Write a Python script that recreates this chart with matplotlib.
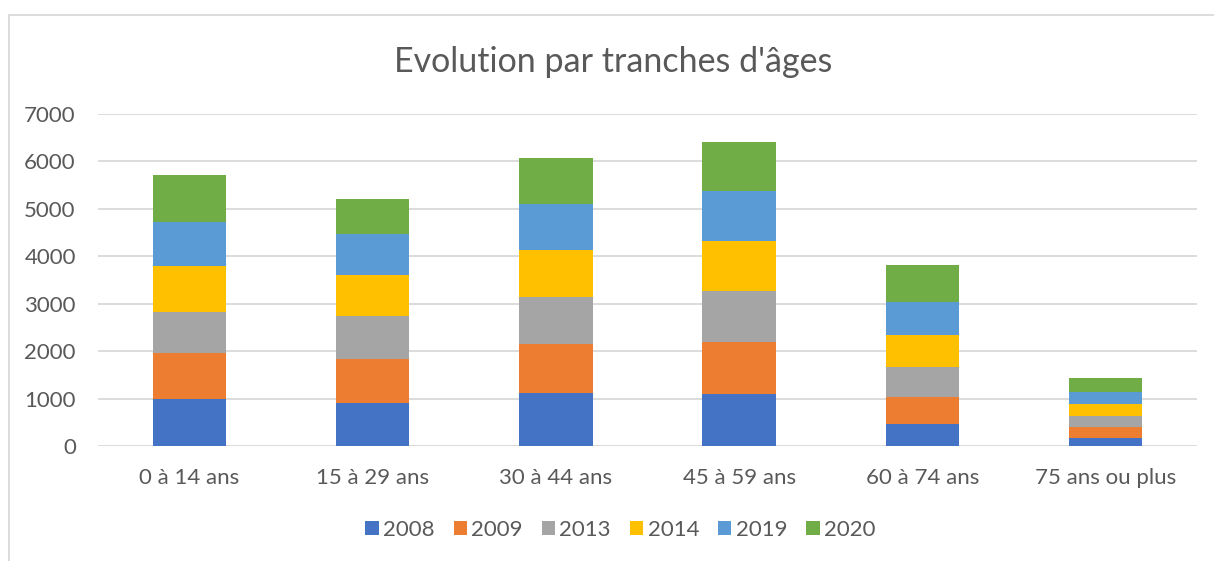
import matplotlib.pyplot as plt
from matplotlib.lines import Line2D
import numpy as np

plt.rcParams['font.family'] = ['Lato', 'DejaVu Sans']

categories = ["0 à 14 ans", "15 à 29 ans", "30 à 44 ans", "45 à 59 ans", "60 à 74 ans", "75 ans ou plus"]
years = ["2008", "2009", "2013", "2014", "2019", "2020"]
v2008 = [1000, 913, 1111, 1091, 458, 175]
v2009 = [958, 922, 1047, 1097, 582, 232]
v2013 = [877, 914, 985, 1088, 620, 232]
v2014 = [964, 859, 992, 1049, 675, 247]
v2019 = [914, 858, 977, 1061, 709, 260]
v2020 = [1000, 739, 964, 1021, 768, 282]
colors = ["#4472C4", "#ED7D31", "#A5A5A5", "#FFC000", "#5B9BD5", "#70AD47"]

series = [v2008, v2009, v2013, v2014, v2019, v2020]
txt = "#595959"

fig = plt.figure(figsize=(12.14, 5.61), dpi=100)
ax = fig.add_axes([98 / 1214, 115 / 561, 1099 / 1214, 332 / 561])

x = np.arange(len(categories))
bottom = np.zeros(len(categories))
for name, vals, c in zip(years, series, colors):
    ax.bar(x, vals, 0.4, bottom=bottom, color=c, label=name, zorder=2)
    bottom += np.array(vals)

ax.set_xlim(-0.5, len(categories) - 0.5)
ax.set_ylim(0, 7000)
ax.set_yticks(range(0, 7001, 1000))
ax.set_xticks(x)
ax.set_xticklabels(categories)
ax.grid(axis="y", color="#D9D9D9", linewidth=1.3, zorder=0)
for s in ax.spines.values():
    s.set_visible(False)
ax.tick_params(length=0, labelsize=16, colors=txt)
ax.tick_params(axis="y", pad=16)
ax.tick_params(axis="x", pad=16)

fig.text(0.505, 0.89, "Evolution par tranches d'âges", ha="center", va="center",
         fontsize=24.5, color=txt)

fig.legend(loc="center", bbox_to_anchor=(0.511, 0.055), ncol=6, frameon=False,
           fontsize=16, labelcolor=txt, handlelength=0.6, handleheight=0.6,
           handletextpad=0.2, columnspacing=0.85)

# chart-area border (only top and left edges are visible in the crop)
fig.add_artist(Line2D([9 / 1214, 1.0], [1 - 15 / 561, 1 - 15 / 561], color="#D9D9D9", lw=1.3))
fig.add_artist(Line2D([9 / 1214, 9 / 1214], [0, 1 - 15 / 561], color="#D9D9D9", lw=1.3))

fig.savefig("out.png", dpi=100)
